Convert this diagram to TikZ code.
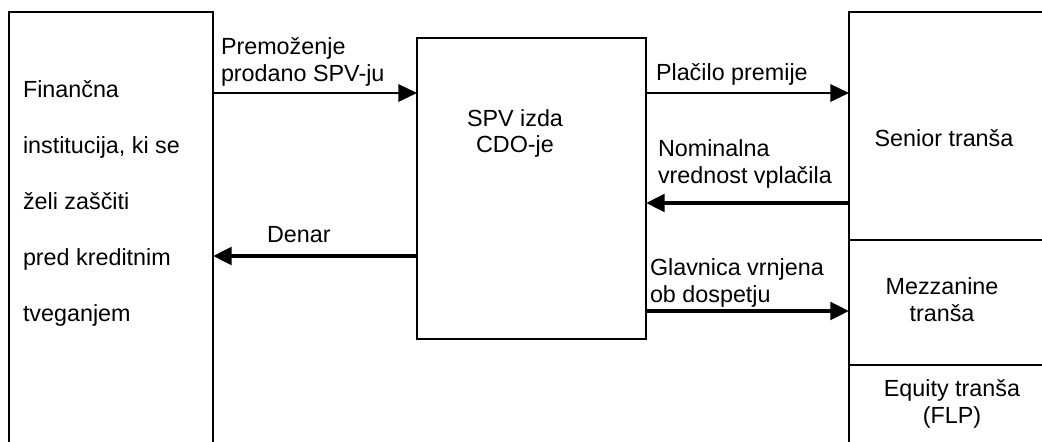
\documentclass[tikz,border=0pt]{standalone}
\usepackage{fontspec}
\setmainfont{Liberation Sans}
\usetikzlibrary{arrows.meta}
\begin{document}
\begin{tikzpicture}[x=0.75pt,y=-0.75pt,
  box/.style={draw, line width=1pt, inner sep=0pt, outer sep=0pt, anchor=north west},
  lbl/.style={inner sep=0pt, outer sep=0pt, font=\fontsize{17.5}{20.25}\selectfont},
  thinarrow/.style={line width=1.8pt, -{Triangle[length=14pt,width=13pt]}},
  thickarrow/.style={line width=3pt, -{Triangle[length=14pt,width=13pt]}}]
\useasboundingbox (0,0) rectangle (1042,442);
\clip (0,0) rectangle (1042,442);
% boxes
\node[box, minimum width=153pt, minimum height=336pt] (fin) at (9,12) {};
\node[box, minimum width=171.75pt, minimum height=225.75pt] (spv) at (417,38) {};
\node[box, minimum width=150pt, minimum height=171pt] (senior) at (849,12) {};
\node[box, minimum width=150pt, minimum height=93.75pt] (mezz) at (849,240) {};
\node[box, minimum width=150pt, minimum height=75pt] (equity) at (849,365) {};
% box texts (base anchor = last line)
\node[lbl, anchor=base west, align=left, font=\fontsize{17.5}{42}\selectfont] (fintext) at (23,321)
  {Finančna\\institucija, ki se\\želi zaščiti\\pred kreditnim\\tveganjem};
\node[lbl, anchor=base, align=center] (spvtext) at (515,153) {SPV izda\\CDO-je};
\node[lbl, anchor=base] (seniortext) at (944,147) {Senior tranša};
\node[lbl, anchor=base, align=center] (mezztext) at (942,321) {Mezzanine\\tranša};
\node[lbl, anchor=base, align=center] (equitytext) at (952,423) {Equity tranša\\(FLP)};
% arrows
\draw[thinarrow] (fin.east |- 0,93) -- (spv.west |- 0,93);
\draw[thickarrow] (spv.west |- 0,256) -- (fin.east |- 0,256);
\draw[thinarrow] (spv.east |- 0,93) -- (senior.west |- 0,93);
\draw[thickarrow] (senior.west |- 0,203) -- (spv.east |- 0,203);
\draw[thickarrow] (spv.east |- 0,311) -- (mezz.west |- 0,311);
% arrow labels
\node[lbl, anchor=base west, align=left] (lab1) at (221,82) {Premoženje\\prodano SPV-ju};
\node[lbl, anchor=base west] (lab2) at (267,242) {Denar};
\node[lbl, anchor=base west] (lab3) at (656,81) {Plačilo premije};
\node[lbl, anchor=base west, align=left] (lab4) at (658,184) {Nominalna\\vrednost vplačila};
\node[lbl, anchor=base west, align=left] (lab5) at (650,302) {Glavnica vrnjena\\ob dospetju};
\end{tikzpicture}
\end{document}
